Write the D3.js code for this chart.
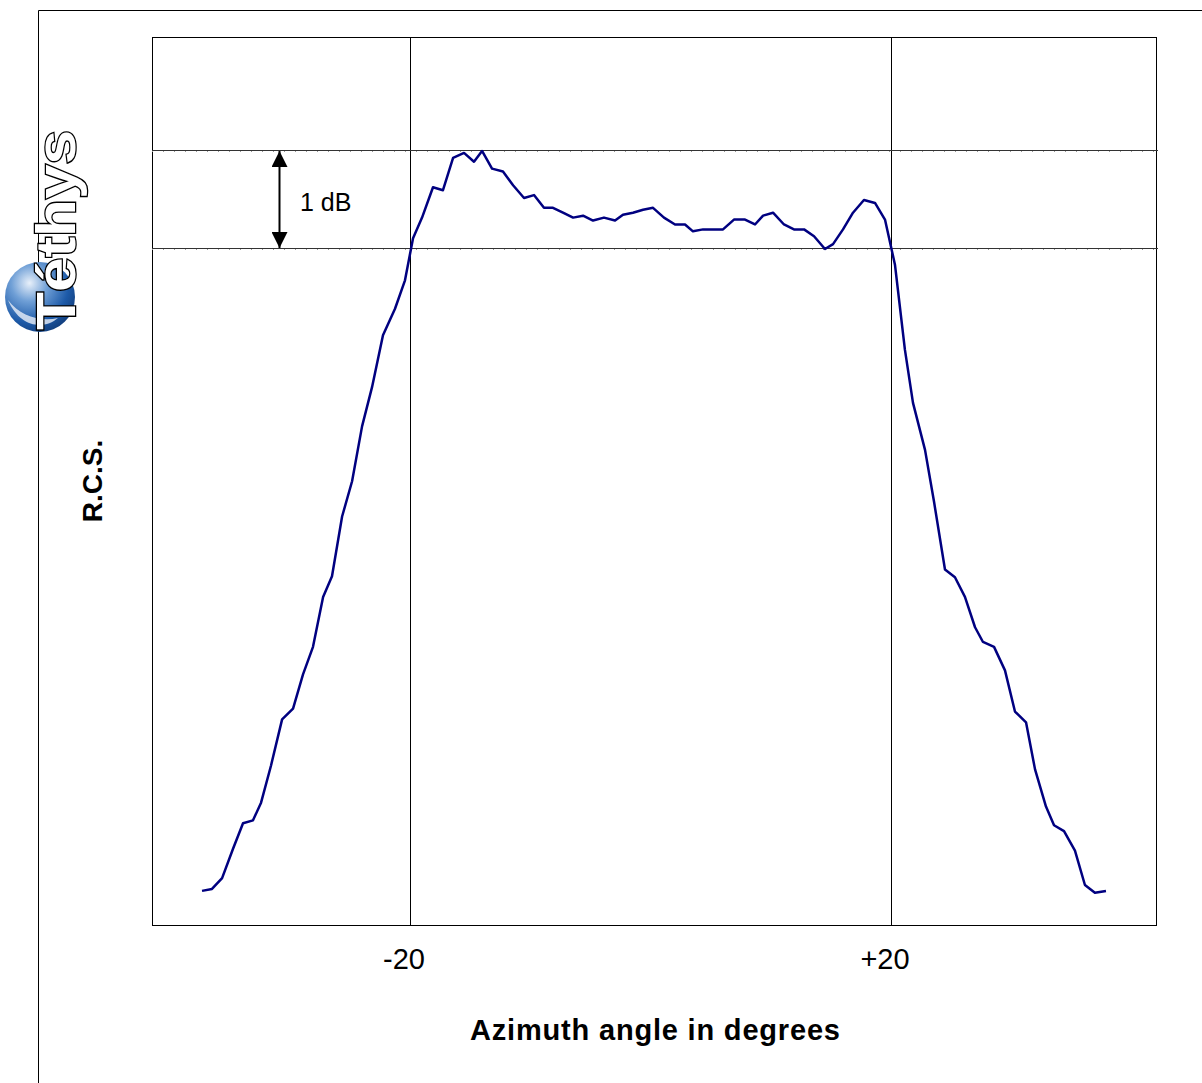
<!DOCTYPE html>
<html>
<head>
<meta charset="utf-8">
<script src="https://cdn.jsdelivr.net/npm/d3@7"></script>
<style>
    body { margin: 0; background: #fff; }
    svg { display: block; font-family: Arial, "Liberation Sans", sans-serif; }
</style>
</head>
<body>
<svg id="chart" width="1202" height="1083"></svg>
<script>
// azimuth angle (deg) and relative RCS (dB, 0 = peak)
const angles = [
    -37.30, -36.47, -35.63, -34.72, -33.89, -33.06, -32.39, -31.56, -30.64, -29.73,
    -28.90, -28.07, -27.23, -26.49, -25.65, -24.82, -23.99, -23.16, -22.25, -21.25,
    -20.42, -19.75, -19.00, -18.09, -17.26, -16.42, -15.51, -14.68, -14.01, -13.18,
    -12.27, -11.43, -10.52, -9.69, -8.86, -8.11, -7.28, -6.44, -5.61, -4.78,
    -3.87, -2.95, -2.29, -1.46, -0.62, 0.21, 1.12, 2.04, 2.87, 3.53,
    4.37, 5.20, 6.03, 6.94, 7.86, 8.69, 9.36, 10.19, 11.10, 11.93,
    12.77, 13.60, 14.51, 15.18, 16.01, 16.84, 17.75, 18.67, 19.50, 20.33,
    21.16, 21.83, 22.83, 23.58, 24.49, 25.32, 26.15, 26.99, 27.65, 28.57,
    29.48, 30.31, 31.23, 31.98, 32.89, 33.56, 34.39, 35.30, 36.13, 36.96,
    37.88
]
const rcs = [
    -7.56, -7.54, -7.43, -7.13, -6.87, -6.84, -6.66, -6.28, -5.81, -5.70,
    -5.35, -5.07, -4.56, -4.35, -3.74, -3.38, -2.82, -2.42, -1.89, -1.62,
    -1.33, -0.90, -0.69, -0.38, -0.41, -0.08, -0.03, -0.12, -0.01, -0.19,
    -0.22, -0.36, -0.49, -0.46, -0.59, -0.59, -0.64, -0.69, -0.67, -0.72,
    -0.69, -0.72, -0.66, -0.64, -0.61, -0.59, -0.69, -0.76, -0.76, -0.83,
    -0.81, -0.81, -0.81, -0.71, -0.71, -0.76, -0.67, -0.64, -0.76, -0.81,
    -0.81, -0.88, -1.01, -0.96, -0.81, -0.64, -0.51, -0.54, -0.71, -1.17,
    -2.04, -2.58, -3.06, -3.59, -4.28, -4.36, -4.56, -4.87, -5.02, -5.07,
    -5.31, -5.73, -5.84, -6.32, -6.70, -6.89, -6.95, -7.15, -7.50, -7.58,
    -7.56
]
const xTicks = [-20, 20]
const xTickLabels = ['-20', '+20']
const dbLines = [0, -1]

const svg = d3.select('#chart')
const plot = { left: 152, right: 1156, top: 37, bottom: 925 }

const x = d3.scaleLinear().domain([-41.46, 42.04]).range([plot.left, plot.right])
const y = d3.scaleLinear().domain([-7.908, 1.153]).range([plot.bottom, plot.top])

// outer frame (left + top edges)
svg.append('path')
    .attr('d', 'M38.5,1083 V10.5 H1202')
    .attr('fill', 'none')
    .attr('stroke', '#000')
    .attr('stroke-width', 1)

// plot box
svg.append('rect')
    .attr('x', plot.left + 0.5)
    .attr('y', plot.top + 0.5)
    .attr('width', plot.right - plot.left)
    .attr('height', plot.bottom - plot.top)
    .attr('fill', 'none')
    .attr('stroke', '#000')
    .attr('stroke-width', 1)

// vertical grid at +-20
svg.selectAll('.vline')
    .data(xTicks)
    .enter()
    .append('line')
    .attr('class', 'vline')
    .attr('x1', (d) => Math.round(x(d)) + 0.5)
    .attr('x2', (d) => Math.round(x(d)) + 0.5)
    .attr('y1', plot.top)
    .attr('y2', plot.bottom)
    .attr('stroke', '#000')
    .attr('stroke-width', 1)

// 1 dB reference lines, with small ticks like the original
dbLines.forEach((v) => {
    const yy = Math.round(y(v)) + 0.5
    svg.append('line')
        .attr('x1', plot.left)
        .attr('x2', plot.right + 2)
        .attr('y1', yy)
        .attr('y2', yy)
        .attr('stroke', '#333')
        .attr('stroke-width', 1)
    svg.append('line')
        .attr('x1', plot.left)
        .attr('x2', plot.right + 2)
        .attr('y1', yy + 1)
        .attr('y2', yy + 1)
        .attr('stroke', '#999')
        .attr('stroke-width', 1)
        .attr('stroke-dasharray', '1,10')
})

// x tick labels
svg.selectAll('.xlabel')
    .data(xTicks)
    .enter()
    .append('text')
    .attr('class', 'xlabel')
    .attr('x', (d) => x(d) - 6)
    .attr('y', 969)
    .attr('text-anchor', 'middle')
    .attr('font-size', 29)
    .text((d, i) => xTickLabels[i])

// axis titles
svg.append('text')
    .attr('x', 655)
    .attr('y', 1040)
    .attr('text-anchor', 'middle')
    .attr('font-size', 29)
    .attr('font-weight', 'bold')
    .attr('textLength', 370)
    .attr('lengthAdjust', 'spacing')
    .text('Azimuth angle in degrees')

svg.append('text')
    .attr('transform', 'translate(102,481) rotate(-90)')
    .attr('text-anchor', 'middle')
    .attr('font-size', 28)
    .attr('font-weight', 'bold')
    .text('R.C.S.')

// 1 dB marker arrow
const defs = svg.append('defs')
defs.append('marker')
    .attr('id', 'arrow')
    .attr('viewBox', '0 0 10 10')
    .attr('refX', 10)
    .attr('refY', 5)
    .attr('markerWidth', 16)
    .attr('markerHeight', 16)
    .attr('markerUnits', 'userSpaceOnUse')
    .attr('orient', 'auto-start-reverse')
    .append('path')
    .attr('d', 'M0,0 L10,5 L0,10 Z')
    .attr('fill', '#000')

svg.append('line')
    .attr('x1', 279.5)
    .attr('x2', 279.5)
    .attr('y1', y(0) + 1)
    .attr('y2', y(-1))
    .attr('stroke', '#000')
    .attr('stroke-width', 2)
    .attr('marker-start', 'url(#arrow)')
    .attr('marker-end', 'url(#arrow)')

svg.append('text')
    .attr('x', 300)
    .attr('y', 211)
    .attr('font-size', 25)
    .text('1 dB')

// RCS curve
const line = d3.line()
    .x((d) => x(d[0]))
    .y((d) => y(d[1]))

svg.append('path')
    .datum(angles.map((a, i) => [a, rcs[i]]))
    .attr('d', line)
    .attr('fill', 'none')
    .attr('stroke', '#000080')
    .attr('stroke-width', 2.5)
    .attr('stroke-linejoin', 'round')

// Téthys logo
const grad = defs.append('radialGradient')
    .attr('id', 'sphere')
    .attr('cx', '35%')
    .attr('cy', '30%')
    .attr('r', '75%')
grad.append('stop').attr('offset', '0%').attr('stop-color', '#e8f0fa')
grad.append('stop').attr('offset', '35%').attr('stop-color', '#6f9fd6')
grad.append('stop').attr('offset', '75%').attr('stop-color', '#1d5aa8')
grad.append('stop').attr('offset', '100%').attr('stop-color', '#123f7e')

const logo = svg.append('g')
logo.append('circle')
    .attr('cx', 40)
    .attr('cy', 297)
    .attr('r', 35)
    .attr('fill', 'url(#sphere)')
logo.append('path')
    .attr('d', 'M8,300 C20,316 40,322 58,318 C44,330 20,328 8,300 Z')
    .attr('fill', '#dfe8f4')
    .attr('opacity', 0.85)

logo.append('text')
    .attr('transform', 'translate(75,330) rotate(-90)')
    .attr('font-size', 56)
    .attr('font-weight', 900)
    .attr('textLength', 200)
    .attr('lengthAdjust', 'spacingAndGlyphs')
    .attr('fill', '#fff')
    .attr('stroke', '#000')
    .attr('stroke-width', 2.5)
    .attr('paint-order', 'stroke')
    .text('Téthys')
</script>
</body>
</html>
